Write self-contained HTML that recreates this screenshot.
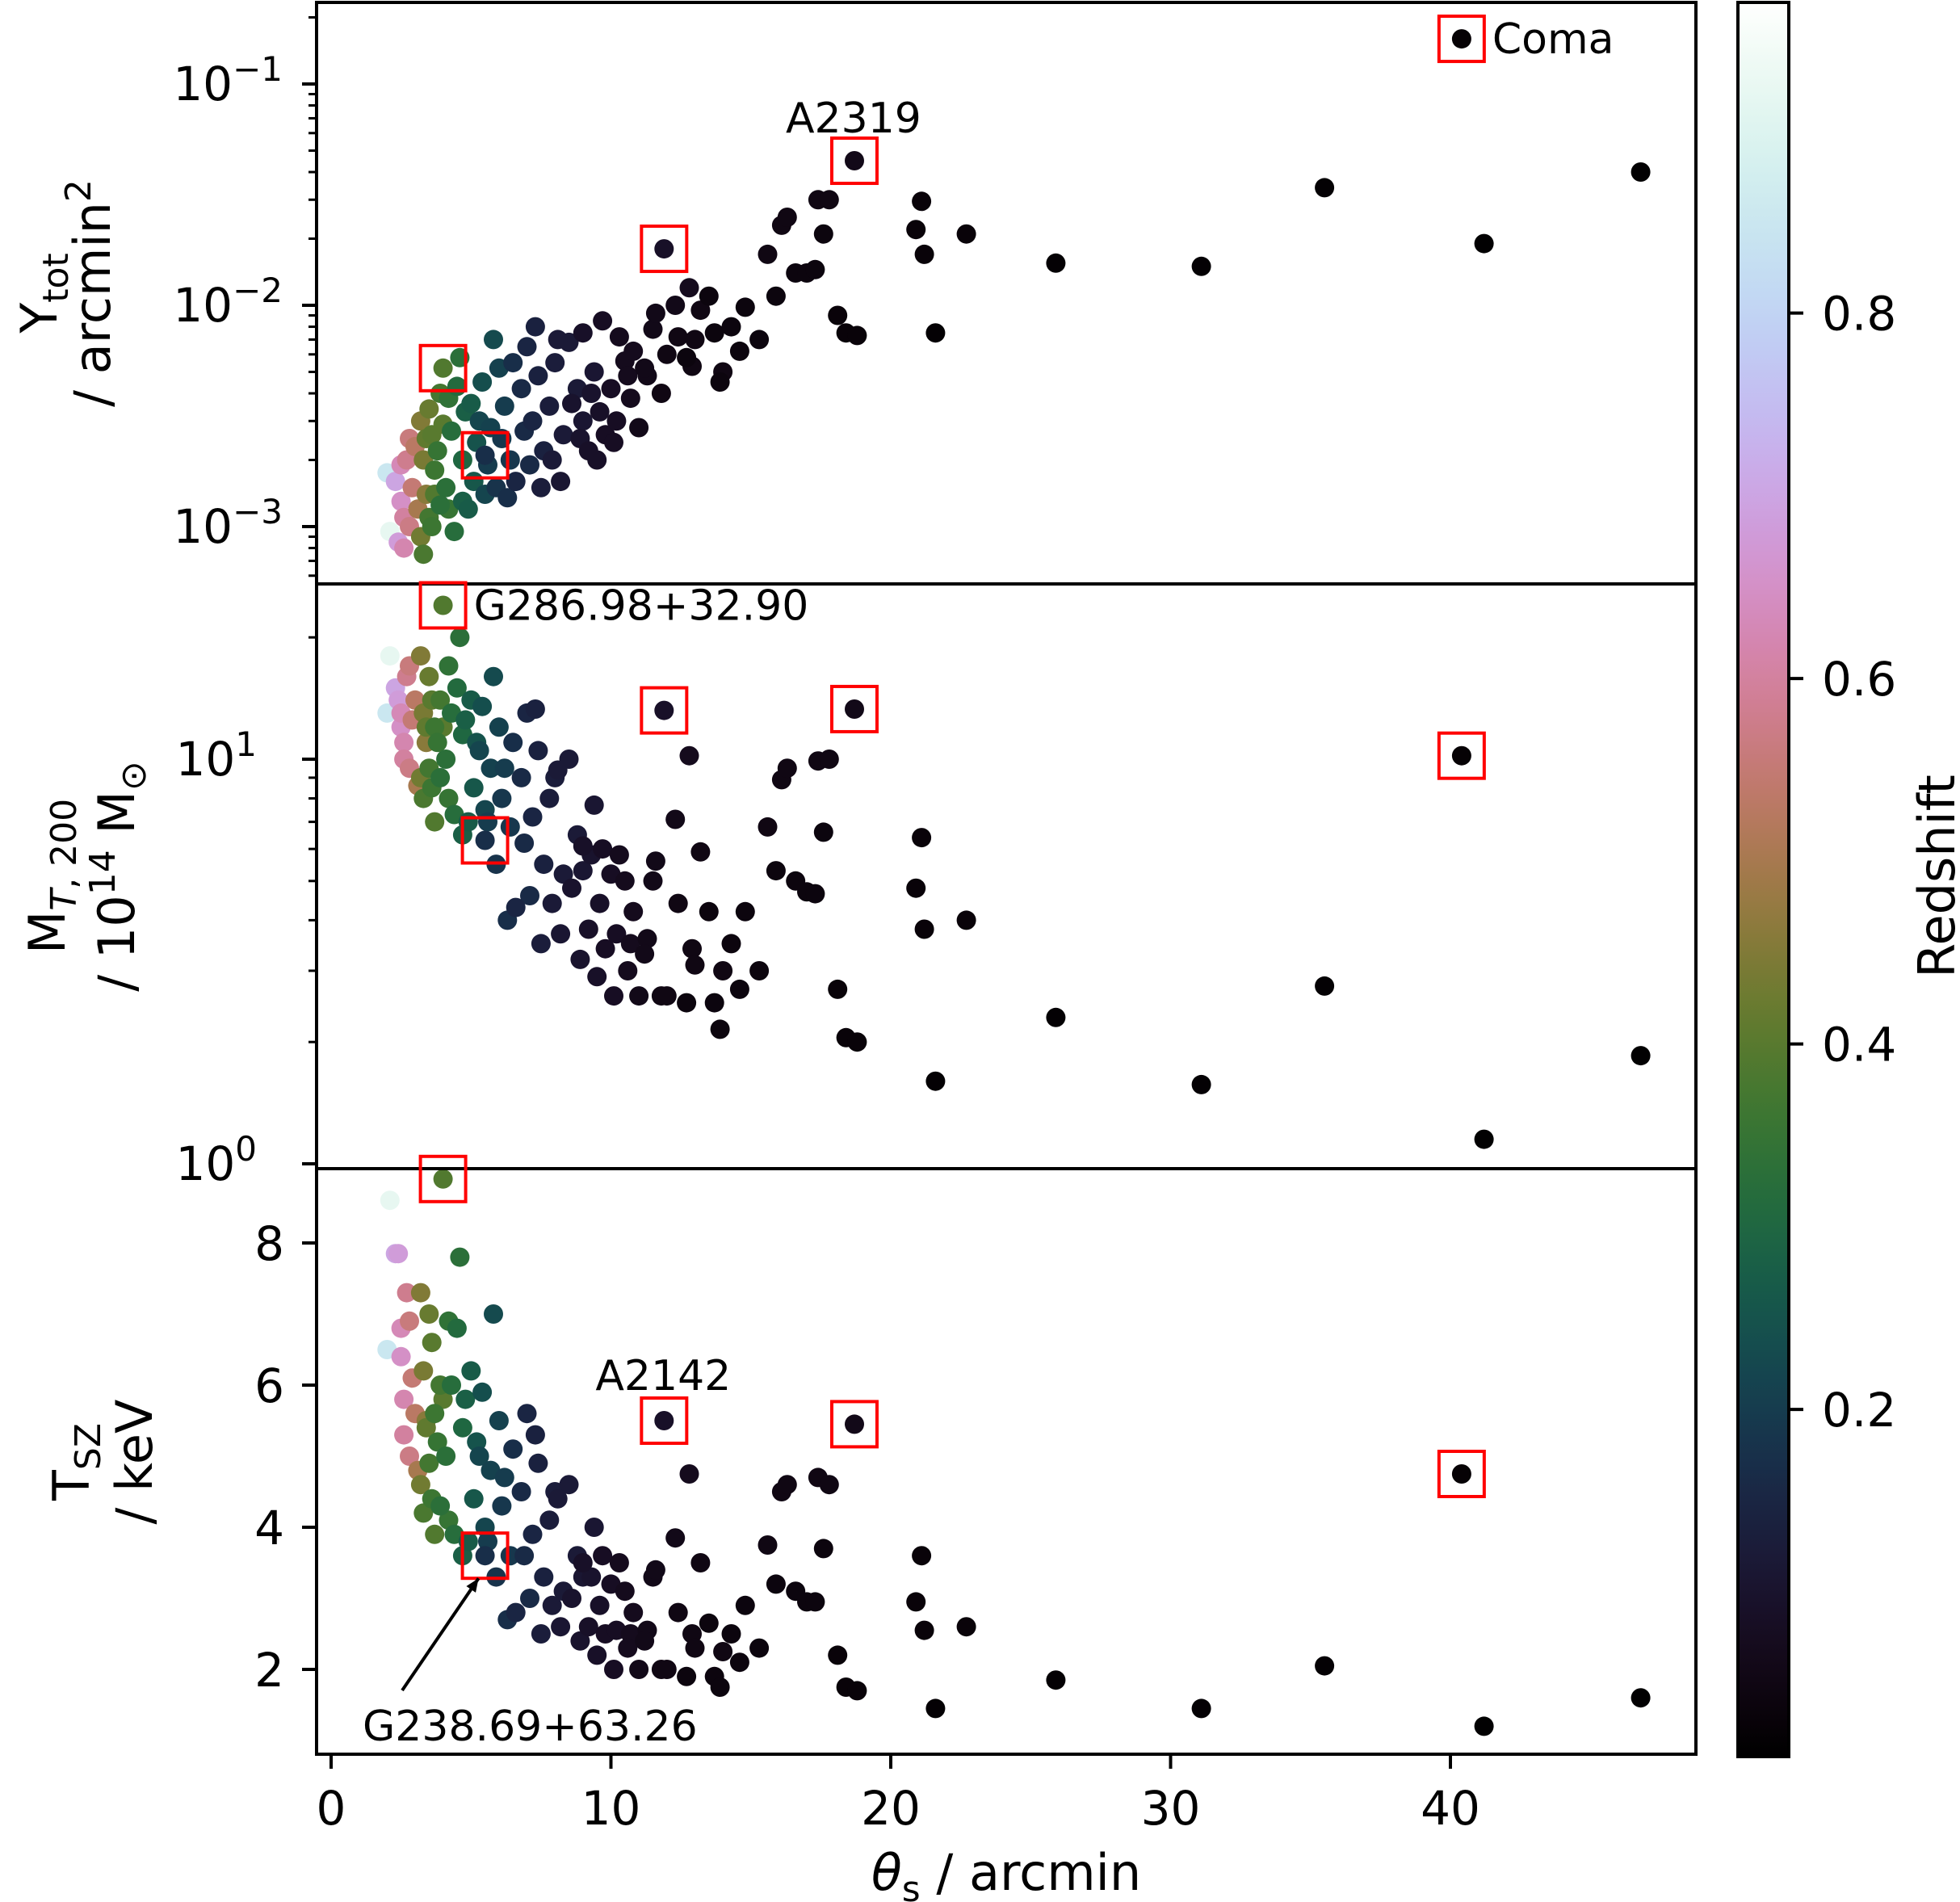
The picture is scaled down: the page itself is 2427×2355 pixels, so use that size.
<!DOCTYPE html>
<html><head><meta charset="utf-8">
<style>
html,body{margin:0;padding:0;background:#fff;}
svg{display:block;font-family:"DejaVu Sans","Liberation Sans",sans-serif;}
</style></head>
<body>
<svg id="chart" xmlns="http://www.w3.org/2000/svg" width="2427" height="2355" viewBox="0 0 2427 2355">
<defs><linearGradient id="cbgrad" x1="0" y1="1" x2="0" y2="0"></linearGradient></defs>
<rect x="0" y="0" width="2427" height="2355" fill="#fff"/>
<g id="points"></g>
<g id="axes"></g>
<g id="annot"></g>
</svg>
<script>
// ---- data: one entry per cluster ----
const theta = [2.1,2.0,2.3,2.4,2.5,2.6,2.7,2.8,2.6,2.9,3.0,2.8,2.5,3.1,
3.2,3.3,3.4,3.2,3.5,3.6,3.3,3.5,3.7,3.8,3.6,4.0,4.2,4.1,3.9,4.3,4.5,4.6,4.4,4.7,4.0,3.9,3.4,3.7,4.8,4.2,
5.0,5.2,5.4,5.8,5.1,5.5,4.9,5.3,5.7,6.0,6.2,5.6,6.4,5.5,4.7,5.9,6.1,
6.5,6.8,7.0,7.2,6.6,7.4,7.6,7.1,6.3,7.8,8.0,8.3,8.5,7.5,8.8,9.0,6.9,7.9,9.4,8.2,
9.2,9.6,9.8,10.0,10.2,9.5,10.5,10.3,9.0,10.7,11.0,11.3,11.5,11.8,11.9,12.3,12.4,12.8,12.9,13.2,13.5,13.7,13.9,14.3,14.6,14.8,15.3,15.6,15.9,16.1,16.3,16.6,17.0,17.3,17.4,17.6,17.8,18.1,18.4,18.7,18.8,20.9,21.1,21.2,21.6,22.7,25.9,31.1,35.5,40.4,41.2,46.8,
8.6,9.3,8.9,10.8,11.2,12.0,9.7,10.6,8.1,7.3,11.6,10.1,12.7,14.0,13.0];
const ytotMilli = [0.95,1.75,1.6,0.85,1.3,0.8,2.0,2.5,1.1,1.5,2.3,1.0,1.9,1.2,
3.0,2.0,1.4,0.9,3.4,2.6,0.75,1.1,1.8,2.2,1.0,5.2,3.8,1.5,1.25,2.7,4.3,5.8,0.95,2.0,2.9,4.0,2.5,1.4,3.3,1.2,
3.6,2.4,4.5,7.0,1.6,1.4,1.2,3.0,2.8,5.2,3.5,1.9,2.0,2.1,1.3,1.5,2.5,
5.5,4.2,6.5,3.0,1.6,4.8,2.2,1.9,1.35,3.5,5.5,2.6,6.8,1.5,4.2,3.0,2.7,2.0,5.0,1.6,
2.2,3.3,2.6,4.2,3.0,2.0,5.6,7.2,7.5,3.8,2.8,4.8,7.8,4.0,18.0,10.0,7.2,12.0,5.3,9.5,11.0,7.5,4.5,8.0,6.2,9.8,7.0,17.0,11.0,23.0,25.0,14.0,14.0,14.5,30.0,21.0,30.0,9.0,7.5,45.0,7.3,22.0,29.5,17.0,7.5,21.0,15.5,15.0,34.0,160,19.0,40.0,
3.6,4.0,2.5,6.2,5.2,6.0,8.5,4.8,7.0,8.0,9.2,2.4,5.8,5.0,7.0];
const massT200 = [18,13,15,14,12,11,16,17,10,12.5,14,9.5,13,8.6,
18,13,11,9,16,14,8,9.5,12,11,8.5,24,17,10,9,13,15,20,7.3,11.5,12,14,12,7,12.5,8,
14,11,13.5,16,8.5,7.5,7,10.5,9.5,12,9.5,7.0,6.8,6.3,6.5,5.5,8.0,
11,9,13,7.2,4.3,10.5,5.5,4.6,4.0,8.0,9.0,5.2,10,3.5,6.5,5.3,6.2,4.4,7.7,3.7,
3.8,4.4,3.4,5.2,3.7,2.9,5.0,5.8,6.1,3.5,2.6,3.6,5.0,2.6,13.2,7.1,4.4,10.2,3.4,5.9,4.2,2.5,2.15,3.5,2.7,4.2,3.0,6.8,5.3,8.9,9.5,5.0,4.7,4.65,9.9,6.6,10.0,2.7,2.05,13.3,2.0,4.8,6.4,3.8,1.6,4.0,2.3,1.57,2.75,10.2,1.15,1.85,
4.8,5.8,3.2,4.2,3.3,2.6,6.0,3.0,9.4,13.3,5.6,2.6,2.5,3.0,3.1];
const tsz = [8.6,6.5,7.85,7.85,6.4,5.8,7.3,6.9,5.3,6.1,5.6,5.0,6.8,4.8,
7.3,6.2,5.5,4.6,7.0,6.6,4.2,4.9,5.6,5.2,4.4,8.9,6.9,5.0,4.3,6.0,6.8,7.8,3.9,5.4,5.8,6.0,5.4,3.9,5.8,4.1,
6.2,5.2,5.9,7.0,4.4,4.0,3.8,5.0,4.8,5.5,4.7,3.8,3.6,3.6,3.6,3.3,4.3,
5.1,4.5,5.6,3.9,2.8,4.9,3.3,3.0,2.7,4.1,4.5,3.1,4.6,2.5,3.6,3.3,3.6,2.9,4.0,2.6,
2.6,2.9,2.5,3.2,2.55,2.2,3.1,3.5,3.5,2.5,2.0,2.55,3.3,2.0,5.5,3.85,2.8,4.75,2.5,3.5,2.65,1.9,1.75,2.5,2.1,2.9,2.3,3.75,3.2,4.5,4.6,3.1,2.95,2.95,4.7,3.7,4.6,2.2,1.75,5.45,1.7,2.95,3.6,2.55,1.45,2.6,1.85,1.45,2.05,4.75,1.2,1.6,
3.0,3.3,2.4,2.8,2.4,2.0,3.6,2.3,4.4,5.3,3.4,2.0,1.9,2.25,2.3];
const redshift = [0.92,0.85,0.7,0.68,0.65,0.62,0.58,0.56,0.6,0.55,0.53,0.57,0.63,0.5,
0.45,0.44,0.46,0.43,0.42,0.40,0.38,0.37,0.36,0.35,0.36,0.39,0.34,0.33,0.33,0.32,0.31,0.33,0.32,0.3,0.4,0.37,0.41,0.39,0.28,0.35,
0.27,0.25,0.24,0.23,0.26,0.22,0.27,0.22,0.21,0.21,0.2,0.2,0.19,0.17,0.28,0.18,0.19,
0.17,0.16,0.15,0.15,0.15,0.14,0.14,0.16,0.17,0.13,0.13,0.12,0.12,0.13,0.12,0.11,0.16,0.12,0.11,0.11,
0.09,0.09,0.08,0.08,0.08,0.09,0.07,0.07,0.09,0.07,0.06,0.06,0.06,0.05,0.09,0.06,0.05,0.07,0.05,0.05,0.04,0.04,0.04,0.04,0.04,0.04,0.04,0.05,0.04,0.05,0.05,0.04,0.04,0.04,0.05,0.04,0.05,0.03,0.03,0.06,0.03,0.03,0.03,0.03,0.02,0.03,0.02,0.02,0.02,0.023,0.015,0.015,
0.10,0.10,0.10,0.07,0.06,0.05,0.08,0.07,0.12,0.14,0.06,0.08,0.04,0.05,0.05];
// highlighted clusters, identified by theta and mass
const highlightTheta = [40.4,18.7,11.9,4.0,5.5];
const highlightMass = [10.2,13.3,13.2,24,6.3];
const xTicks = [0,10,20,30,40];
const tTicks = [2,4,6,8];
const yDecades = [-3,-2,-1];
const mDecades = [0,1];
const cbTicks = [0.2,0.4,0.6,0.8];

// ---- layout ----
const NS="http://www.w3.org/2000/svg";
const L=392,R=2100;
const P1={top:3,bot:723}, P2={top:723,bot:1447}, P3={top:1447,bot:2172};
const X=v=>410+(v-0)*34.65;
const Y1=v=>378-274*Math.log10(v/0.01);
const Y2=v=>1441-501*Math.log10(v);
const Y3=v=>2067-88*(v-2);
const CB={x:2152,w:63,top:3,bot:2175,vmin:0.01,vmax:0.97};
const CBY=v=>CB.bot-(v-CB.vmin)/(CB.vmax-CB.vmin)*(CB.bot-CB.top);

function cubehelix(x){
  x=Math.max(0,Math.min(1,x));
  const a=x*(1-x)/2, phi=2*Math.PI*(0.5/3-1.5*x);
  const c=Math.cos(phi), s=Math.sin(phi);
  let r=x+a*(-0.14861*c+1.78277*s), g=x+a*(-0.29227*c-0.90649*s), b=x+a*(1.97294*c);
  const f=t=>Math.round(Math.max(0,Math.min(1,t))*255);
  return `rgb(${f(r)},${f(g)},${f(b)})`;
}
const zcol=z=>cubehelix((z-CB.vmin)/(CB.vmax-CB.vmin));

function mk(tag,attrs,parent){const e=document.createElementNS(NS,tag);for(const k in attrs)e.setAttribute(k,attrs[k]);parent.appendChild(e);return e;}

const highlightIdx = highlightTheta.map((t,k)=>theta.findIndex((v,i)=>Math.abs(v-t)<1e-9 && Math.abs(massT200[i]-highlightMass[k])<1e-9));
const [iComa,iA2319,iA2142,iG286,iG238]=highlightIdx;

// ---- points ----
const pg=document.getElementById('points');
const order=theta.map((_,i)=>i).sort((a,b)=>redshift[b]-redshift[a]);
const panels=[{f:i=>Y1(ytotMilli[i]/1000),n:'ytot'},{f:i=>Y2(massT200[i]),n:'mass'},{f:i=>Y3(tsz[i]),n:'tsz'}];
panels.forEach(p=>{
  order.forEach(i=>{
    const c=mk('circle',{cx:X(theta[i]).toFixed(1),cy:p.f(i).toFixed(1),r:12,fill:zcol(redshift[i])},pg);
    
    
  });
});

// ---- axes ----
const ax=document.getElementById('axes');
[P1,P2,P3].forEach((P,k)=>{
  const r=mk('rect',{x:L,y:P.top,width:R-L,height:P.bot-P.top,fill:'none',stroke:'#000','stroke-width':4},ax);
  
  
});
function tick(x1,y1,x2,y2,w){mk('line',{x1,y1,x2,y2,stroke:'#000','stroke-width':w},ax);}
function txt(x,y,s,anchor,size,name){const t=mk('text',{x,y,'font-size':size,'text-anchor':anchor,fill:'#000'},ax);t.innerHTML=s;return t;}
for(let d=-4;d<=0;d++){for(let m=1;m<10;m++){const v=m*Math.pow(10,d);const y=Y1(v);if(y<P1.top||y>P1.bot)continue;tick(L,y,L-(m===1?18:10),y,m===1?4:3);}}
yDecades.forEach(d=>{txt(350,Y1(Math.pow(10,d))+20,`10<tspan dy="-24" font-size="42">−${-d}</tspan>`,'end',58,'y-tick-label-ytot');});
for(let d=-1;d<=2;d++){for(let m=1;m<10;m++){const v=m*Math.pow(10,d);const y=Y2(v);if(y<P2.top||y>P2.bot)continue;tick(L,y,L-(m===1?18:10),y,m===1?4:3);}}
mDecades.forEach(d=>{txt(318,Y2(Math.pow(10,d))+20,`10<tspan dy="-24" font-size="42">${d}</tspan>`,'end',58,'y-tick-label-mass');});
tTicks.forEach(v=>{tick(L,Y3(v),L-18,Y3(v),4);txt(352,Y3(v)+21,String(v),'end',58,'y-tick-label-tsz');});
xTicks.forEach(v=>{tick(X(v),P3.bot,X(v),P3.bot+18,4);txt(X(v),2259,String(v),'middle',58,'x-tick-label');});
function rlabel(x,y,s,name){const t=mk('text',{x,y,'font-size':62,'text-anchor':'middle',fill:'#000',transform:`rotate(-90 ${x} ${y})`},ax);t.innerHTML=s;}
rlabel(70,363,'Y<tspan dy="14" font-size="44">tot</tspan>','y-axis-title-ytot-1');
rlabel(136,363,'/ arcmin<tspan dy="-24" font-size="44">2</tspan>','y-axis-title-ytot-2');
rlabel(80,1085,'M<tspan dy="14" font-size="44"><tspan font-style="italic">T</tspan>, 200</tspan>','y-axis-title-mass-1');
rlabel(166,1085,'/ 10<tspan dy="-24" font-size="44">14</tspan><tspan dy="24"> M</tspan><tspan dy="14" font-size="44">⊙</tspan>','y-axis-title-mass-2');
rlabel(110,1810,'T<tspan dy="14" font-size="44">SZ</tspan>','y-axis-title-tsz-1');
rlabel(188,1810,'/ keV','y-axis-title-tsz-2');
txt(1246,2340,'<tspan font-style="italic">θ</tspan><tspan dy="14" font-size="44">s</tspan><tspan dy="-14"> / arcmin</tspan>','middle',62,'x-axis-title');

// ---- colorbar ----
const grad=document.getElementById('cbgrad');
for(let i=0;i<=60;i++){const f=i/60;mk('stop',{offset:f,'stop-color':cubehelix(f)},grad);}
const cbr=mk('rect',{x:CB.x,y:CB.top,width:CB.w,height:CB.bot-CB.top,fill:'url(#cbgrad)',stroke:'#000','stroke-width':4},ax);


cbTicks.forEach(v=>{const y=CBY(v);tick(CB.x+CB.w,y,CB.x+CB.w+18,y,4);txt(2256,y+21,v.toFixed(1),'start',58,'colorbar-tick-label');});
rlabel(2420,1085,'Redshift','colorbar-title');

// ---- annotations ----
const an=document.getElementById('annot');
highlightIdx.forEach(i=>{
  panels.forEach(p=>{
    const cx=X(theta[i]), cy=p.f(i);
    const b=mk('rect',{x:cx-28,y:cy-28,width:56,height:56,fill:'none',stroke:'#ff0000','stroke-width':4},an);
    
    
  });
});
function atxt(x,y,s,anchor,name){const t=mk('text',{x,y,'font-size':52,'text-anchor':anchor,fill:'#000'},an);t.textContent=s;}
atxt(X(theta[iComa])+38,Y1(ytotMilli[iComa]/1000)+18,'Coma','start','label-coma');
atxt(X(theta[iA2319])-1,Y1(ytotMilli[iA2319]/1000)-35,'A2319','middle','label-a2319');
atxt(X(theta[iG286])+38,Y2(massT200[iG286])+18,'G286.98+32.90','start','label-g286');
atxt(X(theta[iA2142])-1,Y3(tsz[iA2142])-38,'A2142','middle','label-a2142');
atxt(449,2155,'G238.69+63.26','start','label-g238');
const ax2=X(theta[iG238])-8, ay2=Y3(tsz[iG238])+28;
const ln=mk('line',{x1:498,y1:2093,x2:ax2,y2:ay2,stroke:'#000','stroke-width':4},an);


const ang=Math.atan2(ay2-2093,ax2-498);
const hx=ax2, hy=ay2, s=18;
const ph=mk('polygon',{points:`${hx},${hy} ${hx-s*Math.cos(ang-0.4)},${hy-s*Math.sin(ang-0.4)} ${hx-s*Math.cos(ang+0.4)},${hy-s*Math.sin(ang+0.4)}`,fill:'#000'},an);


</script>
</body></html>
